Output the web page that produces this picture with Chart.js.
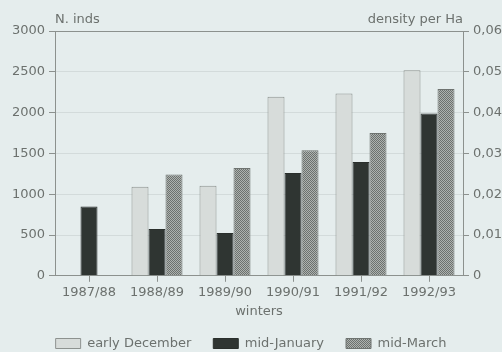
<!DOCTYPE html>
<html>
<head>
<meta charset="utf-8">
<script src="https://cdn.jsdelivr.net/npm/chart.js@4/dist/chart.umd.min.js"></script>
<style>
  html, body { margin: 0; padding: 0; background: #e5eded; }
  #wrap { width: 502px; height: 352px; position: relative; }
</style>
</head>
<body>
<div id="wrap"><canvas id="c" width="502" height="352"></canvas></div>
<script>
// Winter counts per season, three survey dates
const winters = ['1987/88', '1988/89', '1989/90', '1990/91', '1991/92', '1992/93'];
const earlyDecember = [null, 1090, 1105, 2195, 2235, 2520];
const midJanuary = [850, 575, 525, 1260, 1395, 1990];
const midMarch = [null, 1240, 1320, 1540, 1750, 2290];
const countTicks = [0, 500, 1000, 1500, 2000, 2500, 3000];
const densityTicks = ['0', '0,01', '0,02', '0,03', '0,04', '0,05', '0,06'];

const TEXT = '#6c716e';
const AXIS = '#8c918e';
const GRID = '#d3dbdb';
const FONT = { family: 'DejaVu Sans', size: 13 };

// fine dotted screen for the March bars
function dotPattern(c) {
  const p = document.createElement('canvas');
  p.width = 2; p.height = 2;
  const g = p.getContext('2d');
  g.fillStyle = '#adb2af'; g.fillRect(0, 0, 2, 2);
  g.fillStyle = '#6c716e'; g.fillRect(0, 0, 1, 1); g.fillRect(1, 1, 1, 1);
  return c.createPattern(p, 'repeat');
}
const ctx = document.getElementById('c').getContext('2d');
const marchFill = dotPattern(ctx);

// axis captions above the plot
const captions = {
  id: 'captions',
  afterDraw(chart) {
    const a = chart.chartArea, c = chart.ctx;
    c.save();
    c.font = '13px "DejaVu Sans"';
    c.fillStyle = TEXT;
    c.textBaseline = 'middle';
    c.textAlign = 'left';
    c.fillText('N. inds', a.left, 20);
    c.textAlign = 'right';
    c.fillText('density per Ha', a.right, 20);
    c.restore();
  }
};

Chart.defaults.font = FONT;
Chart.defaults.color = TEXT;

new Chart(ctx, {
  type: 'bar',
  data: {
    labels: winters,
    datasets: [
      { label: 'early December', data: earlyDecember, backgroundColor: '#d7dcda', borderColor: '#8d928f', borderWidth: 1, yAxisID: 'y' },
      { label: 'mid-January', data: midJanuary, backgroundColor: '#2f3532', borderColor: '#2a2f2c', borderWidth: 1, yAxisID: 'y' },
      { label: 'mid-March', data: midMarch, backgroundColor: marchFill, borderColor: '#6e7370', borderWidth: 1, yAxisID: 'y' }
    ]
  },
  options: {
    responsive: false,
    animation: false,
    events: [],
    layout: { padding: { top: 31, left: 0, right: 0, bottom: -8 } },
    datasets: { bar: { categoryPercentage: 0.75, barPercentage: 1 } },
    scales: {
      x: {
        afterFit: s => { s.height = s.height - 6; },
        grid: { drawOnChartArea: false, offset: false, drawTicks: true, tickLength: 6, tickColor: AXIS },
        border: { color: AXIS, width: 1 },
        ticks: { padding: 3, color: TEXT, font: FONT, maxRotation: 0 },
        title: { display: true, text: 'winters', color: TEXT, font: FONT, padding: { top: 6, bottom: -4 } }
      },
      y: {
        position: 'left',
        min: 0, max: 3000,
        afterBuildTicks: s => { s.ticks = countTicks.map(v => ({ value: v })); },
        afterFit: s => { s.width = 55; },
        grid: {
          color: c => (c.tick && c.tick.value === 3000) ? AXIS : GRID,
          tickColor: AXIS, tickLength: 6, drawTicks: true
        },
        border: { color: AXIS, width: 1 },
        ticks: { padding: 4, color: TEXT, font: FONT, callback: (v, i) => String(countTicks[i]) }
      },
      y1: {
        position: 'right',
        min: 0, max: 0.06,
        afterBuildTicks: s => { s.ticks = densityTicks.map((t, i) => ({ value: i * 0.01 })); },
        afterFit: s => { s.width = 39; },
        grid: { drawOnChartArea: false, tickColor: AXIS, tickLength: 6 },
        border: { color: AXIS, width: 1 },
        ticks: { padding: 4, color: TEXT, font: FONT, callback: (v, i) => densityTicks[i] }
      }
    },
    plugins: {
      legend: {
        position: 'bottom',
        labels: { boxWidth: 25, boxHeight: 10, padding: 22, color: TEXT, font: FONT }
      },
      tooltip: { enabled: false }
    }
  },
  plugins: [captions]
});
</script>
</body>
</html>
